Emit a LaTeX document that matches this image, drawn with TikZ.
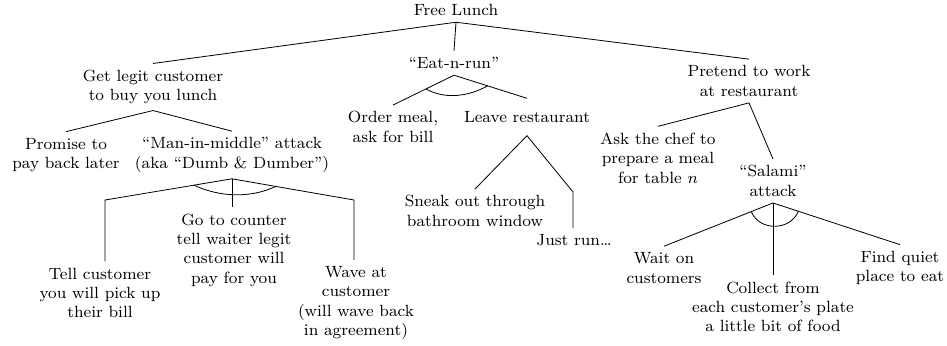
\documentclass[tikz,border=0pt]{standalone}
\usetikzlibrary{calc}

\begin{document}
\begin{tikzpicture}[
        x=0.0173cm, y=-0.0173cm,
        goal/.style={align=center, font=\footnotesize, inner sep=3pt},
        branch/.style={draw},
        andarc/.style={draw}
    ]
    \useasboundingbox (0,0) rectangle (947,345);

    % Root
    \node[goal] (free_lunch) at (456,10) {Free Lunch};

    % Get legit customer
    \node[goal] (legit) at (153,87) {Get legit customer\\to buy you lunch};
    \node[goal] (promise) at (66,155) {Promise to\\pay back later};
    \node[goal] (mim) at (232,155) {``Man-in-middle'' attack\\(aka ``Dumb \& Dumber'')};
    \node[goal] (tell) at (100,293) {Tell customer\\you will pick up\\their bill};
    \node[goal] (counter) at (234,250) {Go to counter\\tell waiter legit\\customer will\\pay for you};
    \node[goal] (wave) at (356,303) {Wave at\\customer\\(will wave back\\in agreement)};
    \coordinate (tell_bend) at (105,200);
    \coordinate (wave_bend) at (354,200);

    % Eat-n-run
    \node[goal] (eat_run) at (454,63) {``Eat-n-run''};
    \node[goal] (order) at (393,127) {Order meal,\\ask for bill};
    \node[goal, minimum height=18pt] (leave) at (527,117) {Leave restaurant};
    \node[goal] (sneak) at (475,211) {Sneak out through\\bathroom window};
    \node[goal] (just_run) at (574,240) {Just run\ldots};
    \coordinate (run_bend) at (573,192);

    % Pretend to work
    \node[goal] (pretend) at (749,81) {Pretend to work\\at restaurant};
    \node[goal] (chef) at (658,158) {Ask the chef to\\prepare a meal\\for table $n$};
    \node[goal] (salami) at (773,181) {``Salami''\\attack};
    \node[goal] (wait) at (664,268) {Wait on\\customers};
    \node[goal] (collect) at (773,307) {Collect from\\each customer's plate\\a little bit of food};
    \node[goal] (quiet) at (900,268) {Find quiet\\place to eat};

    % Branches
    \draw[branch] (free_lunch.south) -- (legit.north);
    \draw[branch] (free_lunch.south) -- (eat_run.north);
    \draw[branch] (free_lunch.south) -- (pretend.north);
    \draw[branch] (legit.south) -- (promise.north);
    \draw[branch] (legit.south) -- (mim.north);
    \draw[branch] (mim.south) -- (tell_bend) -- (tell_bend |- tell.north);
    \draw[branch] (mim.south) -- (mim.south |- counter.north);
    \draw[branch] (mim.south) -- (wave_bend) -- (wave_bend |- wave.north);
    \draw[branch] (eat_run.south) -- (order.north);
    \draw[branch] (eat_run.south) -- (leave.north);
    \draw[branch] (leave.south) -- (sneak.north);
    \draw[branch] (leave.south) -- (run_bend) -- (run_bend |- just_run.north);
    \draw[branch] (pretend.south) -- (chef.north);
    \draw[branch] (pretend.south) -- (salami.north);
    \draw[branch] (salami.south) -- (wait.north);
    \draw[branch] (salami.south) -- (salami.south |- collect.north);
    \draw[branch] (salami.south) -- (quiet.north);

    % AND arcs
    \draw[andarc] ($(mim.south)!0.3!(tell_bend)$)
        .. controls +(26,12) and +(-26,12) .. ($(mim.south)!0.36!(wave_bend)$);
    \draw[andarc] ($(eat_run.south)!0.46!(order.north)$)
        .. controls +(19,10.7) and +(-19,10.7) .. ($(eat_run.south)!0.46!(leave.north)$);
    \draw[andarc] ($(salami.south)!0.2!(wait.north)$)
        .. controls +(8.4,19.8) and +(-8.4,19.8) .. ($(salami.south)!0.2!(quiet.north)$);
\end{tikzpicture}
\end{document}
